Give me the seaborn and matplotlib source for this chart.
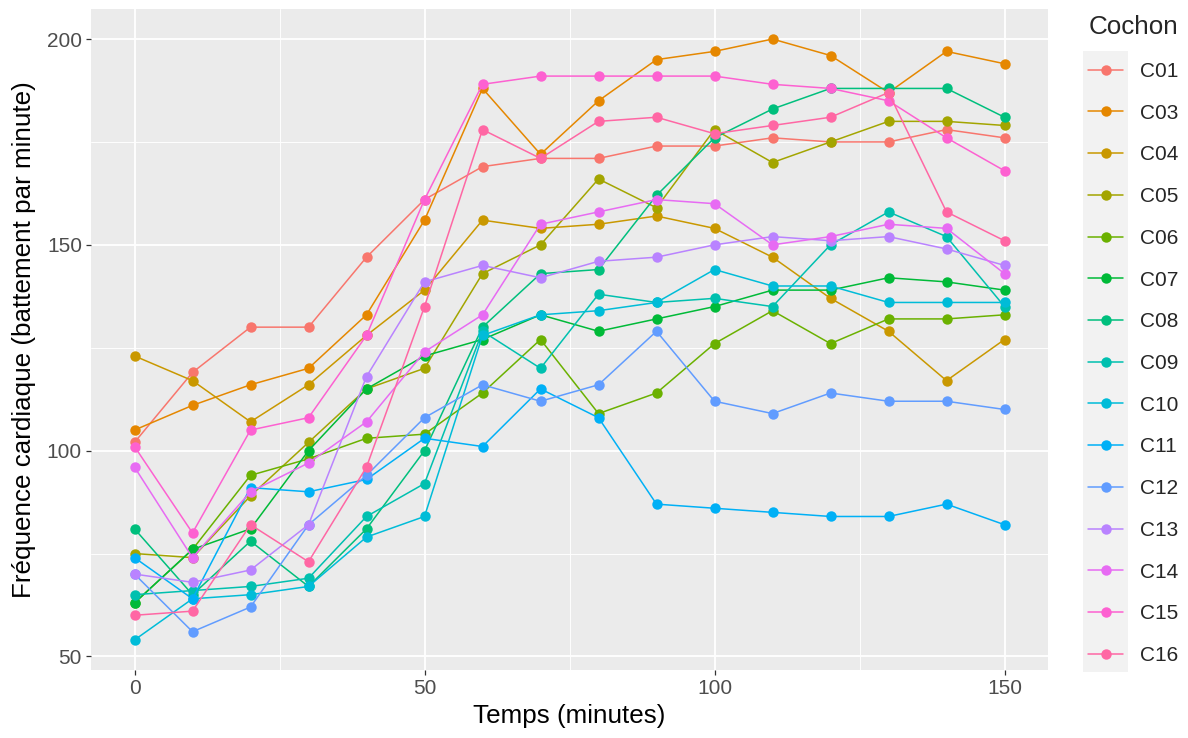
import numpy as np
import pandas as pd
import matplotlib
matplotlib.use("Agg")
import matplotlib.pyplot as plt
import seaborn as sns
from matplotlib.lines import Line2D
from matplotlib.patches import Rectangle
from matplotlib.ticker import MultipleLocator

# ---------------- data ----------------
temps = [0, 10, 20, 30, 40, 50, 60, 70, 80, 90, 100, 110, 120, 130, 140, 150]
cochons = ["C01", "C03", "C04", "C05", "C06", "C07", "C08", "C09",
           "C10", "C11", "C12", "C13", "C14", "C15", "C16"]

C01 = [102, 119, 130, 130, 147, 161, 169, 171, 171, 174, 174, 176, 175, 175, 178, 176]
C03 = [105, 111, 116, 120, 133, 156, 188, 172, 185, 195, 197, 200, 196, 187, 197, 194]
C04 = [123, 117, 107, 116, 128, 139, 156, 154, 155, 157, 154, 147, 137, 129, 117, 127]
C05 = [75, 74, 89, 102, 115, 120, 143, 150, 166, 159, 178, 170, 175, 180, 180, 179]
C06 = [63, 76, 94, 98, 103, 104, 114, 127, 109, 114, 126, 134, 126, 132, 132, 133]
C07 = [63, 76, 81, 100, 115, 123, 127, 133, 129, 132, 135, 139, 139, 142, 141, 139]
C08 = [81, 65, 78, 67, 81, 100, 130, 143, 144, 162, 176, 183, 188, 188, 188, 181]
C09 = [65, 66, 67, 69, 84, 92, 129, 120, 138, 136, 137, 135, 150, 158, 152, 135]
C10 = [54, 64, 65, 67, 79, 84, 128, 133, 134, 136, 144, 140, 140, 136, 136, 136]
C11 = [74, 64, 91, 90, 93, 103, 101, 115, 108, 87, 86, 85, 84, 84, 87, 82]
C12 = [70, 56, 62, 82, 94, 108, 116, 112, 116, 129, 112, 109, 114, 112, 112, 110]
C13 = [70, 68, 71, 82, 118, 141, 145, 142, 146, 147, 150, 152, 151, 152, 149, 145]
C14 = [96, 74, 90, 97, 107, 124, 133, 155, 158, 161, 160, 150, 152, 155, 154, 143]
C15 = [101, 80, 105, 108, 128, 161, 189, 191, 191, 191, 191, 189, 188, 185, 176, 168]
C16 = [60, 61, 82, 73, 96, 135, 178, 171, 180, 181, 177, 179, 181, 187, 158, 151]

series = [C01, C03, C04, C05, C06, C07, C08, C09, C10, C11, C12, C13, C14, C15, C16]

palette = ["#F8766D", "#E58700", "#C99800", "#A3A500", "#6BB100", "#00BA38",
           "#00BF7D", "#00C0AF", "#00BCD8", "#00B0F6", "#619CFF", "#B983FF",
           "#E76BF3", "#FD61D1", "#FF67A4"]

df = pd.DataFrame({
    "Temps": np.tile(temps, len(cochons)),
    "FC": np.concatenate([np.array(s, dtype=float) for s in series]),
    "Cochon": np.repeat(cochons, len(temps)),
})

# ---------------- style ----------------
sns.set_theme(style="white")
plt.rcParams["font.family"] = ["Liberation Sans", "DejaVu Sans"]

fig = plt.figure(figsize=(11.88, 7.38), dpi=100)
L, R, T, B = 91, 1048, 9, 670
W, H = 1188, 738
ax = fig.add_axes([L / W, 1 - B / H, (R - L) / W, (B - T) / H])

ax.set_facecolor("#EBEBEB")
sns.lineplot(data=df, x="Temps", y="FC", hue="Cochon", hue_order=cochons,
             palette=palette, estimator=None, sort=True, linewidth=1.1,
             marker="o", markersize=7.5, markeredgewidth=0,
             legend=False, ax=ax, zorder=3)

ax.set_xlim(-7.5, 157.5)
ax.set_ylim(46.7, 207.3)
ax.xaxis.set_major_locator(MultipleLocator(50))
ax.xaxis.set_minor_locator(MultipleLocator(25))
ax.yaxis.set_major_locator(MultipleLocator(50))
ax.yaxis.set_minor_locator(MultipleLocator(25))
ax.grid(which="major", color="white", linewidth=1.3, zorder=0)
ax.grid(which="minor", color="white", linewidth=0.65, zorder=0)
ax.set_axisbelow(True)
for s in ax.spines.values():
    s.set_visible(False)
ax.tick_params(which="major", length=3.5, width=0.9, color="#333333",
               labelcolor="#4D4D4D", labelsize=15, pad=3)
ax.tick_params(which="minor", length=0)
ax.tick_params(axis="x", bottom=True)
ax.tick_params(axis="y", left=True)

ax.set_xlabel("Temps (minutes)", fontsize=18.7, color="black", labelpad=4)
ax.set_ylabel("Fréquence cardiaque (battement par minute)", fontsize=18.7,
              color="black", labelpad=8)

# ---------------- legend ----------------
fig.patches.append(Rectangle((1083 / W, 1 - 672 / H), 45 / W, (672 - 51) / H,
                             transform=fig.transFigure, facecolor="#F2F2F2",
                             edgecolor="none", zorder=0))
handles = [Line2D([0], [0], color=c, linewidth=1.1, marker="o", markersize=7.5,
                  markeredgewidth=0) for c in palette]
leg = fig.legend(handles, cochons, title="Cochon", loc="upper left",
                 bbox_to_anchor=(1080 / W, 1 - 7 / H), frameon=False,
                 fontsize=15, title_fontsize=18.7, handlelength=1.65,
                 handletextpad=0.85, labelspacing=1.09, borderaxespad=0)
leg._legend_box.align = "left"

fig.savefig("out.png", dpi=100)
